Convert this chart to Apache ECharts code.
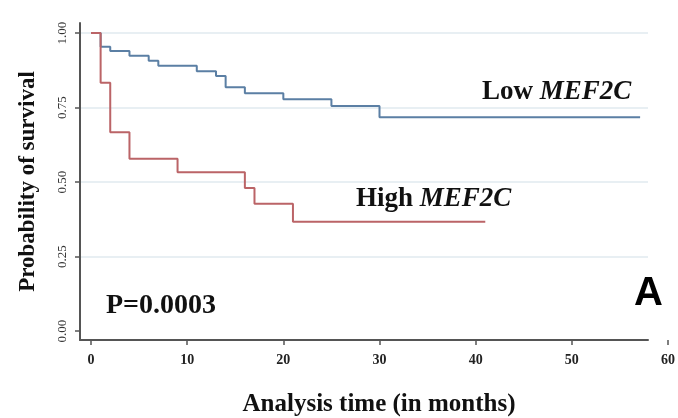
<!DOCTYPE html>
<html>
<head>
<meta charset="utf-8">
<script src="https://cdn.jsdelivr.net/npm/echarts@6/dist/echarts.min.js"></script>
<style>html,body{margin:0;padding:0;background:#fff}#c{width:678px;height:418px}</style>
</head>
<body>
<div id="c"></div>
<script>
// Kaplan-Meier curves
const lowTimes = [0, 1, 2, 4, 6, 7, 11, 13, 14, 16, 20, 25, 30, 57.1];
const lowSurv  = [1, 0.954, 0.940, 0.924, 0.907, 0.890, 0.872, 0.856, 0.818, 0.798, 0.778, 0.755, 0.717, 0.717];
const highTimes = [0, 1, 2, 4, 9, 16, 17, 21, 41];
const highSurv  = [1, 0.833, 0.667, 0.578, 0.533, 0.480, 0.427, 0.367, 0.367];
const xTicks = [0, 10, 20, 30, 40, 50, 60];
const yTicks = [0, 0.25, 0.5, 0.75, 1];
const yTickLabels = ['0.00', '0.25', '0.50', '0.75', '1.00'];

const SERIF = '"Liberation Serif", "DejaVu Serif", serif';
const blue = '#5b7fa4';
const red = '#bb6467';

const chart = echarts.init(document.getElementById('c'), null, {renderer: 'canvas'});
chart.setOption({
  backgroundColor: '#fff',
  animation: false,
  grid: [
    {left: 80, right: 10, top: 23, bottom: 78, containLabel: false, outerBoundsMode: 'none'},
    {left: 80, right: 30, top: 23, bottom: 78, containLabel: false, outerBoundsMode: 'none'}
  ],
  xAxis: [
    {
      gridIndex: 0, type: 'value', min: -1.144, max: 60,
      axisLine: {show: false, onZero: false},
      axisTick: {show: true, customValues: xTicks, length: 5, lineStyle: {color: '#555', width: 1.5}},
      axisLabel: {customValues: xTicks, margin: 13, fontFamily: SERIF, fontWeight: 'bold', fontSize: 14, color: '#222'},
      splitLine: {show: false},
      name: 'Analysis time (in months)', nameLocation: 'middle', nameGap: 52,
      nameTextStyle: {fontFamily: SERIF, fontWeight: 'bold', fontSize: 25, color: '#111', padding: [0, 0, 0, 10]}
    },
    {
      gridIndex: 1, type: 'value', min: -1.144, max: 57.92,
      axisLine: {show: true, onZero: false, lineStyle: {color: '#555', width: 2}},
      axisTick: {show: false}, axisLabel: {show: false}, splitLine: {show: false}
    }
  ],
  yAxis: [
    {gridIndex: 0, type: 'value', min: -0.0302, max: 1.0336, show: false, axisLine: {onZero: false}},
    {
      gridIndex: 1, type: 'value', min: -0.0302, max: 1.0336,
      axisLine: {show: true, onZero: false, lineStyle: {color: '#555', width: 2}},
      axisTick: {show: true, customValues: yTicks, length: 5, lineStyle: {color: '#555', width: 1.5}},
      axisLabel: {
        customValues: yTicks, rotate: 90, margin: 11,
        fontFamily: SERIF, fontSize: 13, color: '#333',
        formatter: function (v) { const i = yTicks.indexOf(v); return i >= 0 ? yTickLabels[i] : ''; }
      },
      splitLine: {show: true, lineStyle: {color: ['rgba(0,0,0,0)', '#e8eff3', '#e8eff3', '#e8eff3', '#e8eff3'], width: 2}},
      name: 'Probability of survival', nameLocation: 'middle', nameGap: 40,
      nameTextStyle: {fontFamily: SERIF, fontWeight: 'bold', fontSize: 23, color: '#111'}
    }
  ],
  series: [
    {
      name: 'Low MEF2C', type: 'line', step: 'end', xAxisIndex: 1, yAxisIndex: 1,
      showSymbol: false, lineStyle: {color: blue, width: 2},
      data: lowTimes.map((t, i) => [t, lowSurv[i]])
    },
    {
      name: 'High MEF2C', type: 'line', step: 'end', xAxisIndex: 1, yAxisIndex: 1,
      showSymbol: false, lineStyle: {color: red, width: 2},
      data: highTimes.map((t, i) => [t, highSurv[i]])
    }
  ],
  graphic: [
    {type: 'text', left: 482, top: 79, style: {
      text: '{n|Low }{i|MEF2C}',
      rich: {
        n: {fontFamily: SERIF, fontWeight: 'bold', fontSize: 27, fill: '#111'},
        i: {fontFamily: SERIF, fontWeight: 'bold', fontStyle: 'italic', fontSize: 27, fill: '#111'}
      }}},
    {type: 'text', left: 356, top: 186, style: {
      text: '{n|High }{i|MEF2C}',
      rich: {
        n: {fontFamily: SERIF, fontWeight: 'bold', fontSize: 27, fill: '#111'},
        i: {fontFamily: SERIF, fontWeight: 'bold', fontStyle: 'italic', fontSize: 27, fill: '#111'}
      }}},
    {type: 'text', left: 106, top: 292, style: {text: 'P=0.0003', fontFamily: SERIF, fontWeight: 'bold', fontSize: 28, fill: '#111'}},
    {type: 'text', left: 634, top: 274, style: {text: 'A', fontFamily: '"Liberation Sans", Arial, sans-serif', fontWeight: 'bold', fontSize: 40, fill: '#000'}}
  ]
});
</script>
</body>
</html>
